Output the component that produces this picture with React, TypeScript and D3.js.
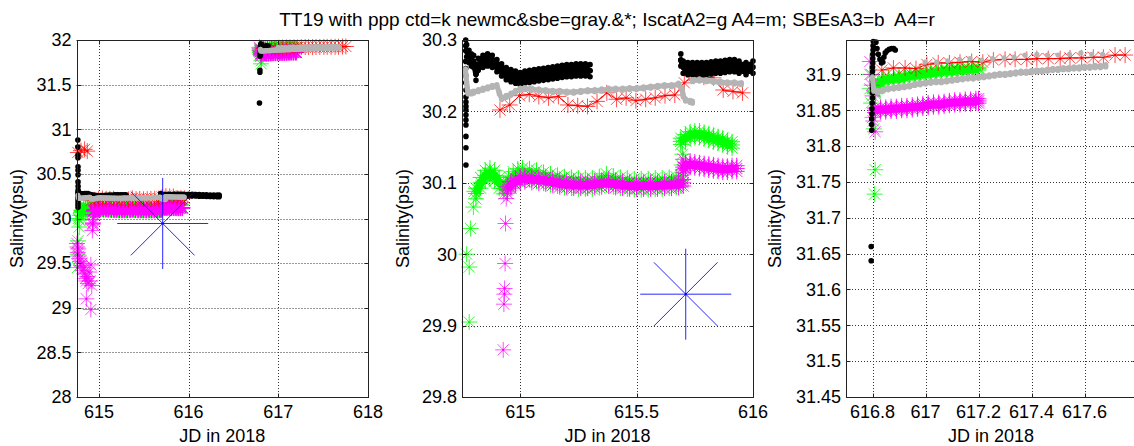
import React, { useEffect, useRef } from 'react';
import * as d3 from 'd3';

type Pt = [number, number];

const W = 1134;
const H = 446;

const title = 'TT19 with ppp ctd=k newmc&sbe=gray.&*; IscatA2=g A4=m; SBEsA3=b  A4=r';
const xLabel = 'JD in 2018';
const yLabel = 'Salinity(psu)';

// three axes: whole record, first deployment zoom, second deployment zoom
const xDomains: Pt[] = [[614.75, 618], [614.75, 616], [616.7, 617.794]];
const yDomains: Pt[] = [[28, 32], [29.8, 30.3], [31.45, 31.948]];
const xTicks = [
  [615, 616, 617, 618],
  [615, 615.5, 616],
  [616.8, 617, 617.2, 617.4, 617.6],
];
const yTicks = [
  [28, 28.5, 29, 29.5, 30, 30.5, 31, 31.5, 32],
  [29.8, 29.9, 30, 30.1, 30.2, 30.3],
  [31.45, 31.5, 31.55, 31.6, 31.65, 31.7, 31.75, 31.8, 31.85, 31.9],
];

// ---- ctd (black dots)
const ctdSpike1: Pt[] = [
  [614.765, 30.88], [614.765, 30.8], [614.766, 30.71], [614.766, 30.68], [614.767, 30.58],
  [614.767, 30.54], [614.767, 30.49], [614.767, 30.41], [614.768, 30.36], [614.768, 30.32],
  [614.766, 30.3], [614.766, 30.292], [614.766, 30.285], [614.766, 30.27], [614.766, 30.26],
  [614.766, 30.25], [614.766, 30.24], [614.767, 30.23], [614.767, 30.22], [614.767, 30.213],
  [614.767, 30.207], [614.767, 30.202], [614.767, 30.195], [614.767, 30.188], [614.767, 30.181],
  [614.767, 30.165], [614.767, 30.149], [614.767, 30.125],
];
const ctdScatter = 0.0085;
const ctdBand1a: Pt[] = [
  [614.77, 30.285], [614.78, 30.277], [614.79, 30.272], [614.8, 30.27], [614.81, 30.252],
  [614.82, 30.266], [614.84, 30.27], [614.86, 30.272], [614.88, 30.27], [614.9, 30.264],
  [614.92, 30.258], [614.94, 30.253], [614.96, 30.25], [614.98, 30.248], [615.0, 30.246],
  [615.02, 30.248], [615.04, 30.249], [615.06, 30.25], [615.08, 30.251], [615.1, 30.252],
  [615.12, 30.253], [615.14, 30.254], [615.16, 30.255], [615.18, 30.256], [615.2, 30.257],
  [615.22, 30.257], [615.24, 30.258], [615.26, 30.258], [615.28, 30.258], [615.3, 30.257],
];
const ctdBand1b: Pt[] = [
  [615.69, 30.272], [615.7, 30.262], [615.72, 30.26], [615.74, 30.26], [615.76, 30.26],
  [615.78, 30.26], [615.8, 30.26], [615.82, 30.261], [615.84, 30.262], [615.86, 30.262],
  [615.88, 30.263], [615.9, 30.264], [615.92, 30.264], [615.94, 30.262], [615.97, 30.26],
  [616.0, 30.262], [616.04, 30.262], [616.08, 30.261], [616.12, 30.259], [616.16, 30.258],
  [616.2, 30.256], [616.24, 30.255], [616.28, 30.254], [616.32, 30.253], [616.34, 30.253],
];
const ctdPts2: Pt[] = [
  [616.79, 31.294], [616.795, 31.64], [616.795, 31.66], [616.797, 31.822], [616.797, 31.83],
  [616.797, 31.838], [616.798, 31.845], [616.798, 31.852], [616.799, 31.86], [616.8, 31.867],
  [616.8, 31.874], [616.8, 31.88], [616.8, 31.886], [616.8, 31.892], [616.8, 31.898],
  [616.8, 31.904], [616.8, 31.91], [616.801, 31.916], [616.801, 31.922], [616.801, 31.928],
  [616.802, 31.934], [616.802, 31.94], [616.803, 31.946], [616.804, 31.952], [616.806, 31.958],
  [616.81, 31.955], [616.813, 31.945], [616.817, 31.936], [616.822, 31.928], [616.828, 31.921],
  [616.834, 31.916], [616.839, 31.917], [616.843, 31.924], [616.848, 31.93], [616.855, 31.933],
  [616.863, 31.935], [616.872, 31.936], [616.88, 31.936], [616.886, 31.934],
];

// ---- newmc & sbe (gray)
const grayScatter = 0.0015;
const newmcBand1a: Pt[] = [
  [614.765, 30.258], [614.767, 30.25], [614.77, 30.24], [614.773, 30.232], [614.776, 30.226],
  [614.79, 30.226], [614.8, 30.227], [614.82, 30.229], [614.84, 30.231], [614.86, 30.233],
  [614.88, 30.235], [614.9, 30.236], [614.91, 30.226], [614.92, 30.218], [614.94, 30.221],
  [614.96, 30.224], [614.98, 30.228], [615.0, 30.231], [615.02, 30.232], [615.05, 30.231],
  [615.08, 30.23], [615.11, 30.229], [615.14, 30.228], [615.17, 30.228], [615.2, 30.227],
  [615.23, 30.227], [615.26, 30.228], [615.29, 30.229], [615.32, 30.229], [615.35, 30.23],
  [615.38, 30.231], [615.41, 30.231], [615.44, 30.231], [615.47, 30.232], [615.5, 30.232],
  [615.53, 30.233], [615.56, 30.234], [615.59, 30.235], [615.62, 30.236], [615.65, 30.236],
  [615.68, 30.238], [615.695, 30.232], [615.7, 30.222], [615.71, 30.216], [615.73, 30.214],
  [615.74, 30.213],
];
const newmcBand1b: Pt[] = [
  [615.74, 30.243], [615.77, 30.244], [615.8, 30.243], [615.83, 30.242],
  [615.86, 30.241], [615.89, 30.24], [615.92, 30.24], [615.95, 30.239],
];
const newmcBand2: Pt[] = [
  [616.8, 31.895], [616.805, 31.878], [616.82, 31.876], [616.84, 31.878], [616.86, 31.88],
  [616.88, 31.881], [616.9, 31.882], [616.92, 31.883], [616.94, 31.884], [616.96, 31.886],
  [616.98, 31.887], [617.0, 31.888], [617.02, 31.889], [617.04, 31.89], [617.06, 31.89],
  [617.08, 31.891], [617.1, 31.892], [617.12, 31.893], [617.14, 31.894], [617.16, 31.895],
  [617.18, 31.895], [617.2, 31.896], [617.22, 31.897], [617.24, 31.898], [617.26, 31.899],
  [617.28, 31.9], [617.3, 31.9], [617.32, 31.901], [617.34, 31.902], [617.36, 31.903],
  [617.38, 31.903], [617.4, 31.904], [617.42, 31.905], [617.44, 31.905], [617.46, 31.906],
  [617.48, 31.907], [617.5, 31.907], [617.52, 31.908], [617.54, 31.908], [617.56, 31.909],
  [617.58, 31.909], [617.6, 31.91], [617.62, 31.91], [617.64, 31.911], [617.66, 31.911],
  [617.68, 31.912],
];
const sbeDots2: Pt[] = [
  [616.998, 31.917], [617.042, 31.917], [617.084, 31.919], [617.128, 31.921], [617.168, 31.922],
  [617.212, 31.92], [617.253, 31.922], [617.296, 31.923], [617.334, 31.924], [617.375, 31.927],
  [617.42, 31.928], [617.46, 31.927], [617.5, 31.927], [617.543, 31.928], [617.586, 31.93],
  [617.627, 31.928], [617.668, 31.928],
];

// ---- IscatA2 (green stars)
const iscatPts1: Pt[] = [
  [614.76, 29.45], [614.763, 29.6], [614.766, 29.75], [614.77, 30.0], [614.781, 29.905],
  [614.781, 29.982], [614.787, 30.036], [614.799, 30.066], [614.803, 30.088],
  [615.693, 30.125], [615.697, 30.14],
];
const iscatScatter1 = 0.0075;
const iscatBand1a: Pt[] = [
  [614.81, 30.085], [614.83, 30.1], [614.85, 30.11], [614.87, 30.113], [614.89, 30.11],
  [614.91, 30.1], [614.93, 30.092], [614.95, 30.102], [614.97, 30.108], [614.99, 30.112],
  [615.01, 30.113], [615.04, 30.112], [615.07, 30.11], [615.1, 30.107], [615.13, 30.105],
  [615.16, 30.103], [615.19, 30.101], [615.22, 30.1], [615.25, 30.099], [615.28, 30.099],
  [615.31, 30.099], [615.34, 30.101], [615.37, 30.105], [615.4, 30.102], [615.43, 30.1],
  [615.46, 30.099], [615.49, 30.098], [615.52, 30.098], [615.55, 30.098], [615.58, 30.099],
  [615.61, 30.099], [615.64, 30.1], [615.67, 30.101], [615.69, 30.103],
];
const iscatScatter1b = 0.0045;
const iscatBand1b: Pt[] = [
  [615.69, 30.158], [615.71, 30.163], [615.73, 30.167], [615.75, 30.168], [615.77, 30.168],
  [615.79, 30.166], [615.81, 30.164], [615.83, 30.162], [615.85, 30.16], [615.87, 30.158],
  [615.89, 30.155], [615.91, 30.153],
];
const iscatPts2: Pt[] = [
  [616.79, 31.9], [616.79, 31.88], [616.795, 31.86], [616.8, 31.84], [616.805, 31.824],
  [616.81, 31.767], [616.808, 31.733],
];
const iscatScatter2 = 0.002;
const iscatBand2: Pt[] = [
  [616.81, 31.875], [616.82, 31.885], [616.84, 31.892], [616.86, 31.893], [616.88, 31.894],
  [616.9, 31.895], [616.92, 31.896], [616.94, 31.898], [616.96, 31.899], [616.98, 31.9],
  [617.0, 31.901], [617.02, 31.902], [617.04, 31.903], [617.06, 31.904], [617.08, 31.905],
  [617.1, 31.905], [617.12, 31.906], [617.14, 31.906], [617.16, 31.907], [617.18, 31.907],
  [617.2, 31.908],
];

// ---- A4 (magenta stars)
const a4mPts1: Pt[] = [
  [614.755, 29.72], [614.76, 29.68], [614.765, 29.62], [614.77, 29.66], [614.775, 29.58],
  [614.78, 29.55], [614.79, 29.52], [614.8, 29.47], [614.81, 29.5], [614.82, 29.42],
  [614.83, 29.45], [614.84, 29.38], [614.85, 29.33], [614.86, 29.3], [614.87, 29.35],
  [614.88, 29.27], [614.89, 29.4], [614.9, 29.3], [614.86, 29.1], [614.91, 28.98],
  [614.91, 29.48], [614.92, 29.25], [614.927, 29.866], [614.93, 29.93], [614.932, 29.944],
  [614.933, 29.952], [614.935, 29.987], [614.937, 30.043], [614.94, 30.078], [615.7, 30.133],
];
const a4mScatter1 = 0.0045;
const a4mBand1a: Pt[] = [
  [614.945, 30.09], [614.96, 30.097], [614.98, 30.102], [615.0, 30.105], [615.02, 30.106],
  [615.05, 30.105], [615.08, 30.104], [615.11, 30.103], [615.14, 30.101], [615.17, 30.099],
  [615.2, 30.098], [615.23, 30.097], [615.26, 30.097], [615.29, 30.097], [615.32, 30.098],
  [615.35, 30.099], [615.38, 30.1], [615.41, 30.098], [615.44, 30.097], [615.47, 30.096],
  [615.5, 30.096], [615.53, 30.096], [615.56, 30.096], [615.59, 30.096], [615.62, 30.097],
  [615.65, 30.097], [615.68, 30.098], [615.7, 30.1],
];
const a4mScatter1b = 0.004;
const a4mBand1b: Pt[] = [
  [615.7, 30.118], [615.71, 30.124], [615.73, 30.126], [615.75, 30.125], [615.77, 30.124],
  [615.79, 30.123], [615.81, 30.122], [615.83, 30.121], [615.85, 30.12], [615.87, 30.119],
  [615.89, 30.119], [615.91, 30.12], [615.93, 30.12],
];
const a4mPts2: Pt[] = [
  [616.79, 31.918], [616.795, 31.9], [616.797, 31.885], [616.8, 31.87], [616.803, 31.835],
  [616.81, 31.82],
];
const a4mScatter2 = 0.003;
const a4mBand2: Pt[] = [
  [616.81, 31.85], [616.83, 31.851], [616.85, 31.851], [616.87, 31.852], [616.89, 31.852],
  [616.91, 31.853], [616.93, 31.853], [616.95, 31.854], [616.97, 31.855], [616.99, 31.856],
  [617.01, 31.857], [617.03, 31.858], [617.05, 31.858], [617.07, 31.859], [617.09, 31.86],
  [617.11, 31.861], [617.13, 31.861], [617.15, 31.862], [617.17, 31.862], [617.19, 31.863],
  [617.2, 31.863],
];

// ---- SBEsA3 (blue, one big star)
const sbeA3: Pt[] = [[615.711, 29.944]];

// ---- A4 (red stars + line, hourly)
const a4rPts1: Pt[] = [[614.765, 30.74], [614.8, 30.76], [614.84, 30.775], [614.87, 30.755]];
const a4rLine1: Pt[] = [
  [614.913, 30.202], [614.955, 30.209], [614.997, 30.222], [615.039, 30.224], [615.08, 30.221],
  [615.122, 30.219], [615.164, 30.221], [615.205, 30.209], [615.247, 30.208], [615.289, 30.207],
  [615.33, 30.214], [615.372, 30.226], [615.414, 30.217], [615.455, 30.219], [615.497, 30.215],
  [615.539, 30.217], [615.58, 30.219], [615.622, 30.222], [615.664, 30.223], [615.705, 30.24],
  [615.747, 30.25], [615.789, 30.248], [615.83, 30.247], [615.872, 30.23], [615.914, 30.228],
  [615.955, 30.226],
];
const a4rLine2: Pt[] = [
  [616.835, 31.906], [616.879, 31.909], [616.923, 31.909], [616.964, 31.908], [617.005, 31.914],
  [617.048, 31.916], [617.09, 31.916], [617.13, 31.917], [617.174, 31.918], [617.216, 31.917],
  [617.256, 31.92], [617.3, 31.921], [617.338, 31.921], [617.382, 31.921], [617.42, 31.922],
  [617.463, 31.922], [617.508, 31.922], [617.545, 31.923], [617.589, 31.923], [617.633, 31.924],
  [617.671, 31.924], [617.715, 31.927], [617.753, 31.927],
];

const GREEN = '#00ff00';
const MAGENTA = '#ff00ff';
const RED = '#ff0000';
const BLUE = '#0000ff';
const GRAY = '#b4b4b4';
const BLACK = '#000000';
const FONT = '"Liberation Sans", Arial, Helvetica, sans-serif';

const TOP = 40;
const BOTTOM = 397;
const panelX: Pt[] = [[76.5, 368], [462, 753], [846, 1136]];
const yLabelX = [23, 409, 781];
const STAR = 8;

type Scale = d3.ScaleLinear<number, number>;

function starPath(pts: Pt[], x: Scale, y: Scale, h: number) {
  const d = h * 0.7;
  return pts
    .map(([a, b]) => {
      const cx = x(a), cy = y(b);
      return `M${cx - h},${cy}h${2 * h}M${cx},${cy - h}v${2 * h}M${cx - d},${cy - d}l${2 * d},${2 * d}M${cx - d},${cy + d}l${2 * d},${-2 * d}`;
    })
    .join('');
}

function dotPath(pts: Pt[], x: Scale, y: Scale, r: number) {
  return pts
    .map(([a, b]) => {
      const cx = x(a), cy = y(b);
      return `M${cx - r},${cy}a${r},${r} 0 1,0 ${2 * r},0a${r},${r} 0 1,0 ${-2 * r},0`;
    })
    .join('');
}

export default function App() {
  const ref = useRef<SVGSVGElement>(null);

  useEffect(() => {
    const svg = d3.select(ref.current);
    svg.selectAll('*').remove();

    svg.append('rect').attr('width', W).attr('height', H).attr('fill', '#fff');

    svg.append('text')
      .attr('x', 607).attr('y', 26)
      .attr('text-anchor', 'middle')
      .style('font-family', FONT).style('font-size', '19px')
      .style('white-space', 'pre')
      .text(title);

    xDomains.forEach((xd, i) => {
      const yd = yDomains[i];
      const [x0, x1] = panelX[i];
      const x = d3.scaleLinear().domain(xd).range([x0, x1]);
      const y = d3.scaleLinear().domain(yd).range([BOTTOM, TOP]);
      const inDom = (p: Pt) => p[0] >= xd[0] && p[0] <= xd[1] && p[1] >= yd[0] && p[1] <= yd[1];

      const g = svg.append('g');
      const clipId = `clip-${i}`;
      g.append('clipPath').attr('id', clipId)
        .append('rect').attr('x', x0).attr('y', TOP).attr('width', x1 - x0).attr('height', BOTTOM - TOP);
      const clip = `url(#${clipId})`;

      // grid (behind data)
      const grid = g.append('g').attr('stroke', '#333').attr('stroke-width', 1).attr('stroke-dasharray', '1,2');
      xTicks[i].forEach(t => {
        const px = Math.round(x(t)) + 0.5;
        grid.append('line').attr('x1', px).attr('x2', px).attr('y1', TOP).attr('y2', BOTTOM);
      });
      yTicks[i].forEach(t => {
        const py = Math.round(y(t)) + 0.5;
        grid.append('line').attr('x1', x0).attr('x2', x1).attr('y1', py).attr('y2', py);
      });

      const stars = (pts: Pt[], color: string, h = STAR, opacity = 0.8) => {
        const vis = pts.filter(inDom);
        if (!vis.length) return;
        g.append('path').attr('d', starPath(vis, x, y, h))
          .attr('fill', 'none').attr('stroke', color).attr('stroke-width', 1).attr('stroke-opacity', opacity);
        g.append('path').attr('d', dotPath(vis, x, y, 1.1)).attr('fill', color);
      };
      const dots = (pts: Pt[], color: string, r: number) => {
        const vis = pts.filter(inDom);
        if (!vis.length) return;
        g.append('path').attr('d', dotPath(vis, x, y, r)).attr('fill', color);
      };
      const edges = (pts: Pt[], s: number) =>
        pts.flatMap(p => [[p[0], p[1] + s], p, [p[0], p[1] - s]] as Pt[]);
      const starBand = (pts: Pt[], s: number, color: string) => {
        g.append('path').attr('clip-path', clip)
          .attr('d', d3.area<Pt>().x(d => x(d[0])).y0(d => y(d[1] - s)).y1(d => y(d[1] + s))(pts))
          .attr('fill', color);
        g.append('path').attr('clip-path', clip)
          .attr('d', d3.line<Pt>().x(d => x(d[0])).y(d => y(d[1]))(pts))
          .attr('fill', 'none').attr('stroke', color).attr('stroke-width', 8)
          .attr('stroke-linejoin', 'round');
        stars(edges(pts, s), color, STAR, 0.9);
      };
      const dotBand = (pts: Pt[], s: number, color: string, r: number) => {
        g.append('path').attr('clip-path', clip)
          .attr('d', d3.area<Pt>().x(d => x(d[0])).y0(d => y(d[1] - s)).y1(d => y(d[1] + s))(pts))
          .attr('fill', color);
        g.append('path').attr('clip-path', clip)
          .attr('d', d3.line<Pt>().x(d => x(d[0])).y(d => y(d[1]))(pts))
          .attr('fill', 'none').attr('stroke', color).attr('stroke-width', 2 * r)
          .attr('stroke-linejoin', 'round').attr('stroke-linecap', 'round');
        dots(edges(pts, s), color, r);
      };

      // IscatA2 green
      stars(iscatPts1, GREEN);
      starBand(iscatBand1a, iscatScatter1, GREEN);
      starBand(iscatBand1b, iscatScatter1b, GREEN);
      stars(iscatPts2, GREEN);
      starBand(iscatBand2, iscatScatter2, GREEN);

      // A4 magenta
      stars(a4mPts1, MAGENTA, STAR, 0.7);
      starBand(a4mBand1a, a4mScatter1, MAGENTA);
      starBand(a4mBand1b, a4mScatter1b, MAGENTA);
      stars(a4mPts2, MAGENTA, STAR, 0.7);
      starBand(a4mBand2, a4mScatter2, MAGENTA);

      // A4 red, stars joined by a line
      stars(a4rPts1, RED, STAR, 0.7);
      [a4rLine1, a4rLine2].forEach(seg => {
        g.append('path').attr('clip-path', clip)
          .attr('d', d3.line<Pt>().x(d => x(d[0])).y(d => y(d[1]))(seg))
          .attr('fill', 'none').attr('stroke', RED).attr('stroke-width', 1);
        stars(seg, RED, STAR, 0.7);
      });

      // ctd black
      dots(ctdSpike1, BLACK, 2.8);
      dotBand(ctdBand1a, ctdScatter, BLACK, 2.8);
      dotBand(ctdBand1b, ctdScatter, BLACK, 2.8);
      dots(ctdPts2, BLACK, 2.8);

      // newmc & sbe gray
      dotBand(newmcBand1a, grayScatter, GRAY, 2.6);
      dotBand(newmcBand1b, grayScatter, GRAY, 2.6);
      dotBand(newmcBand2, grayScatter, GRAY, 2.6);
      dots(sbeDots2, GRAY, 2.6);

      // SBEsA3 blue
      stars(sbeA3, BLUE, 45.5, 0.85);

      // box and inward ticks on all four sides
      const bx0 = Math.round(x0) + 0.5, bx1 = Math.round(x1) + 0.5;
      const by0 = TOP + 0.5, by1 = BOTTOM + 0.5;
      const axis = g.append('g').attr('stroke', '#222').attr('stroke-width', 1).attr('fill', 'none');
      axis.append('rect').attr('x', bx0).attr('y', by0).attr('width', bx1 - bx0).attr('height', by1 - by0);
      const tl = 4;
      xTicks[i].forEach(t => {
        const px = Math.round(x(t)) + 0.5;
        axis.append('line').attr('x1', px).attr('x2', px).attr('y1', by1).attr('y2', by1 - tl);
        axis.append('line').attr('x1', px).attr('x2', px).attr('y1', by0).attr('y2', by0 + tl);
      });
      yTicks[i].forEach(t => {
        const py = Math.round(y(t)) + 0.5;
        axis.append('line').attr('x1', bx0).attr('x2', bx0 + tl).attr('y1', py).attr('y2', py);
        axis.append('line').attr('x1', bx1).attr('x2', bx1 - tl).attr('y1', py).attr('y2', py);
      });

      const labels = g.append('g').style('font-family', FONT).style('font-size', '18px').attr('fill', '#000');
      xTicks[i].forEach(t => {
        labels.append('text').attr('x', x(t)).attr('y', 418).attr('text-anchor', 'middle').text(String(t));
      });
      yTicks[i].forEach(t => {
        labels.append('text').attr('x', x0 - 5).attr('y', y(t)).attr('dy', '0.35em')
          .attr('text-anchor', 'end').text(String(t));
      });
      labels.append('text')
        .attr('x', (x0 + x1) / 2).attr('y', 442).attr('text-anchor', 'middle').text(xLabel);
      labels.append('text')
        .attr('transform', `translate(${yLabelX[i]},${(TOP + BOTTOM) / 2}) rotate(-90)`)
        .attr('text-anchor', 'middle').text(yLabel);
    });
  }, []);

  return (
    <svg
      ref={ref}
      width={W}
      height={H}
      style={{ position: 'absolute', left: 0, top: 0, display: 'block' }}
    />
  );
}
